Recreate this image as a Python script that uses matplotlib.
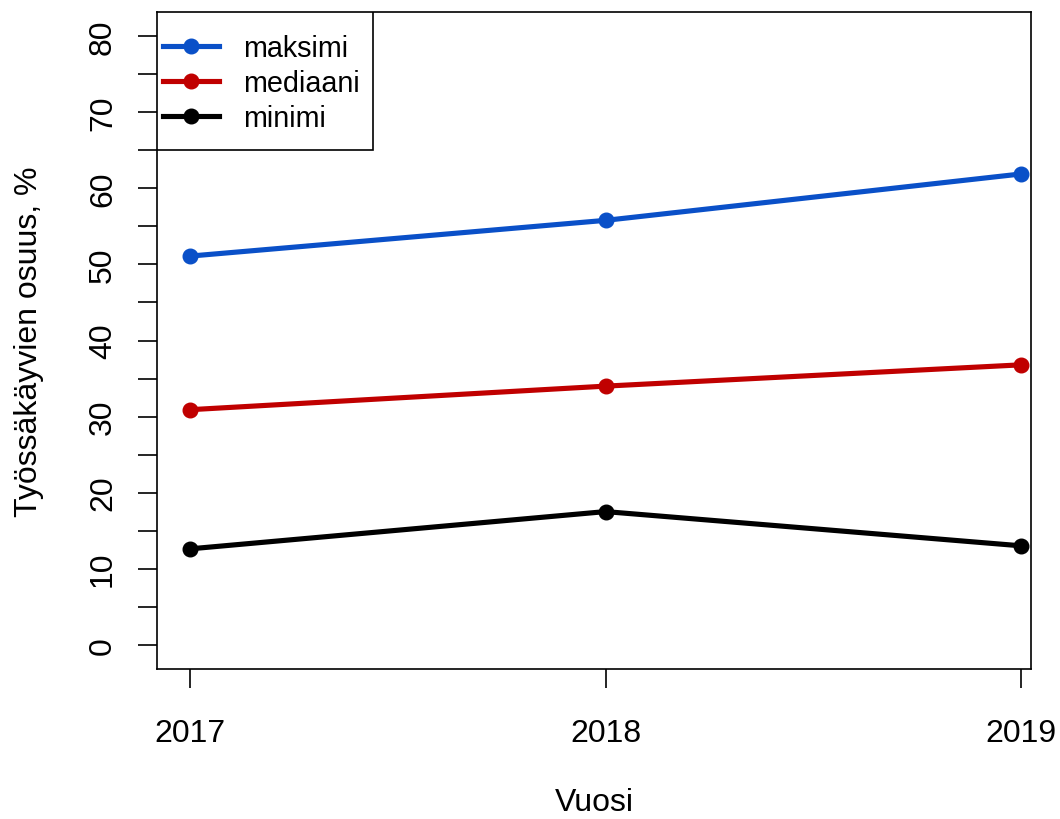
import matplotlib
matplotlib.use("Agg")
import matplotlib.pyplot as plt
from matplotlib.ticker import MultipleLocator
from matplotlib.patches import Rectangle

plt.rcParams['font.family'] = ['Liberation Sans', 'DejaVu Sans']

years = [2017, 2018, 2019]
maksimi = [51.1, 55.8, 61.9]
mediaani = [30.9, 34.0, 36.8]
minimi = [12.6, 17.5, 13.0]

fig = plt.figure(figsize=(10.6, 8.2), dpi=100)
ax = fig.add_axes([157 / 1060, 1 - 670 / 820, (1031 - 157) / 1060, (670 - 13) / 820])

ax.plot(years, maksimi, 'o-', color='#0a50c8', lw=3.7, ms=10.5, label='maksimi')
ax.plot(years, mediaani, 'o-', color='#c00000', lw=3.7, ms=10.5, label='mediaani')
ax.plot(years, minimi, 'o-', color='black', lw=3.7, ms=10.5, label='minimi')

ax.set_xlim(2017 - 33 / 415.5, 2019 + 10 / 415.5)
ax.set_ylim(-3.2, 83.2)
ax.set_xticks(years)
ax.set_xticklabels([str(y) for y in years])
ax.yaxis.set_major_locator(MultipleLocator(10))
ax.yaxis.set_minor_locator(MultipleLocator(5))

ax.tick_params(axis='both', which='both', direction='out', length=14, width=1.2,
               labelsize=23)
ax.tick_params(axis='x', pad=21.5)
ax.tick_params(axis='y', which='major', pad=14)
for lab in ax.get_yticklabels():
    lab.set_rotation(90)
    lab.set_va('center')

for sp in ax.spines.values():
    sp.set_linewidth(1.2)

ax.set_xlabel('Vuosi', fontsize=23, labelpad=28)
ax.set_ylabel('Työssäkäyvien osuus, %', fontsize=23, labelpad=32)

# legend box drawn separately to get R-like padding
ax.add_patch(Rectangle((0, 1 - 138 / 657), 216 / 874, 138 / 657,
                       transform=ax.transAxes, facecolor='white',
                       edgecolor='black', lw=1.2, zorder=4))
leg = ax.legend(loc='upper left', bbox_to_anchor=(6 / 874, 1 - 22.5 / 657),
                fontsize=20.7, frameon=False, borderaxespad=0, borderpad=0,
                handlelength=1.95, handletextpad=0.83, labelspacing=0.24)
leg.set_zorder(5)

fig.savefig('out.png', dpi=100)
